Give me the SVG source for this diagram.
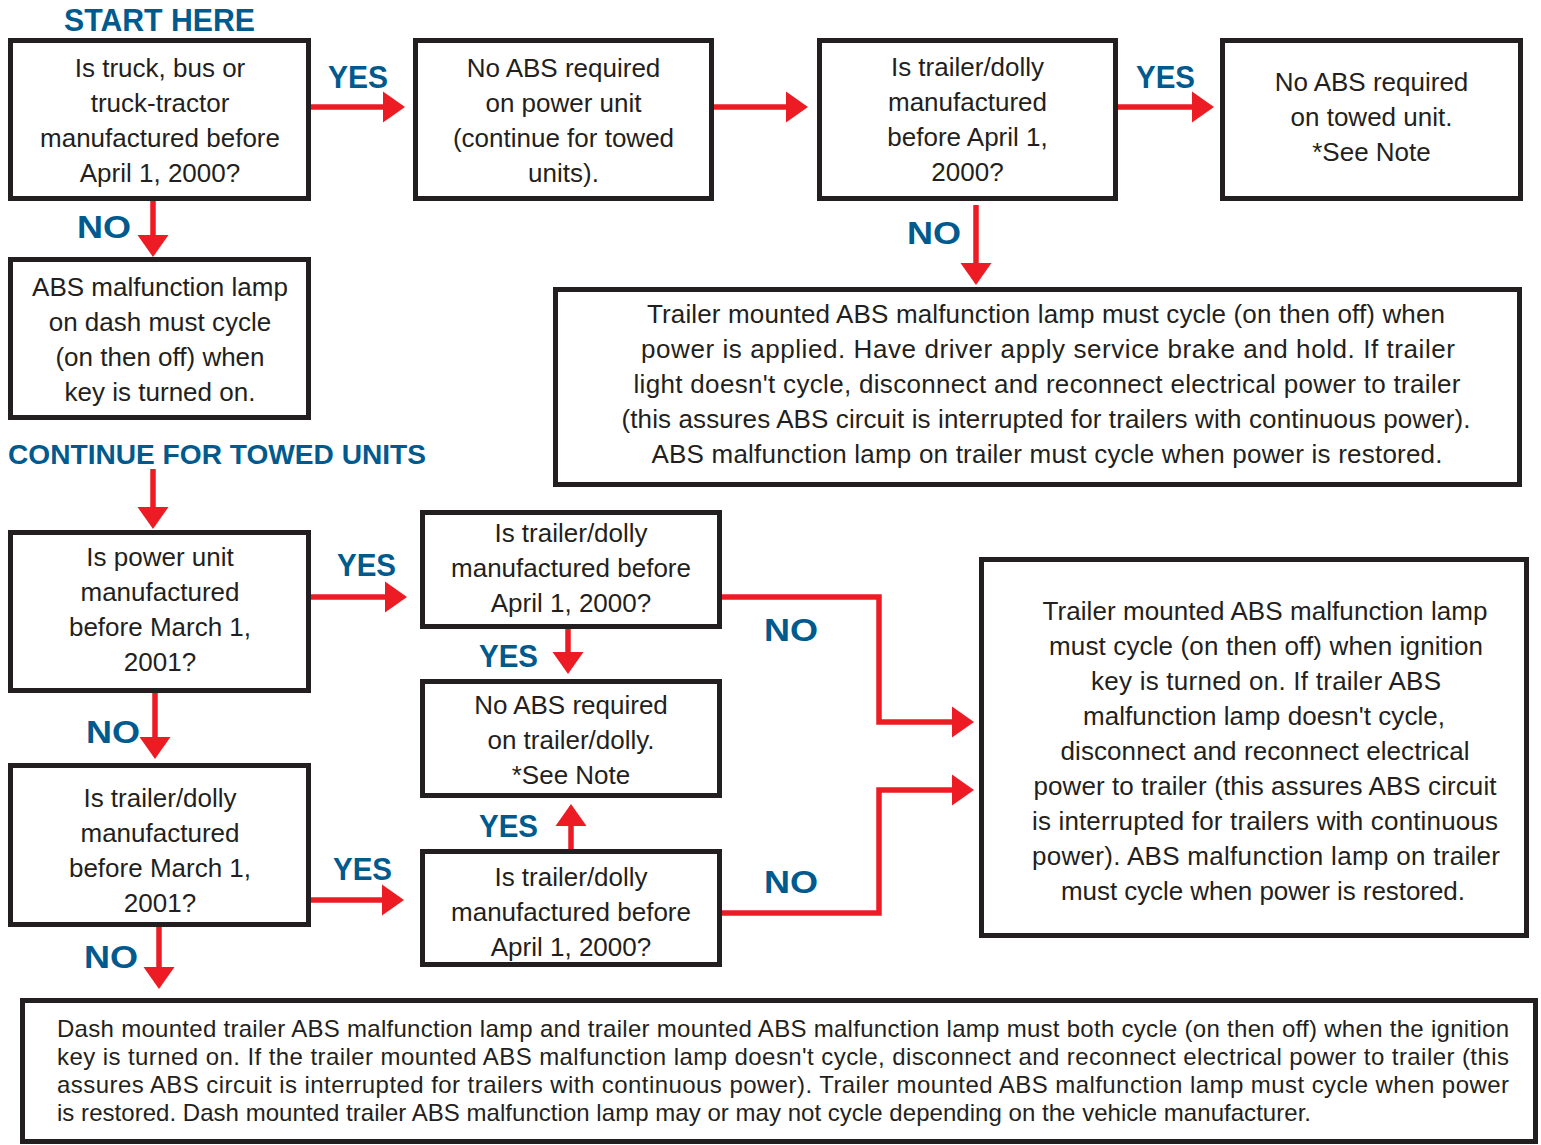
<svg xmlns="http://www.w3.org/2000/svg" width="1541" height="1145" viewBox="0 0 1541 1145">
<style>
.box{fill:#fff;stroke:#231f20;stroke-width:5}
.t{font-family:"Liberation Sans",Arial,sans-serif;font-size:26px;fill:#231f20;text-anchor:middle}
.s{font-family:"Liberation Sans",Arial,sans-serif;font-size:24px;fill:#231f20}
.lbl{font-family:"Liberation Sans",Arial,sans-serif;font-weight:bold;font-size:32px;fill:#005a8e}
.hd{font-family:"Liberation Sans",Arial,sans-serif;font-weight:bold;fill:#005a8e}
.c{fill:none;stroke:#ed1c24;stroke-width:5.5;marker-end:url(#ah)}
</style>
<defs>
<marker id="ah" markerUnits="userSpaceOnUse" markerWidth="22" markerHeight="31" refX="2" refY="15.5" orient="auto" overflow="visible">
<path d="M0,0 L22,15.5 L0,31 z" fill="#ed1c24"/>
</marker>
</defs>
<rect width="1541" height="1145" fill="#fff"/>

<g id="connectors">
<path class="c" d="M311,107 H385"/>
<path class="c" d="M153,201 V237"/>
<path class="c" d="M714,107 H788"/>
<path class="c" d="M1118,107 H1194"/>
<path class="c" d="M976,205 V265"/>
<path class="c" d="M153,469 V509"/>
<path class="c" d="M311,597 H387"/>
<path class="c" d="M155,693 V739"/>
<path class="c" d="M311,900 H384"/>
<path class="c" d="M159,927 V969"/>
<path class="c" d="M568,628 V654"/>
<path class="c" d="M571,849 V824"/>
<path class="c" d="M722,597 H879 V722 H954"/>
<path class="c" d="M722,913 H879 V790 H954"/>
</g>

<g id="labels">
<text class="hd" x="64" y="31" font-size="31" textLength="191" lengthAdjust="spacingAndGlyphs">START HERE</text>
<text class="hd" x="8" y="464" font-size="28" textLength="418" lengthAdjust="spacingAndGlyphs">CONTINUE FOR TOWED UNITS</text>
<text class="lbl" x="328" y="88" textLength="60" lengthAdjust="spacingAndGlyphs">YES</text>
<text class="lbl" x="77" y="238" textLength="54" lengthAdjust="spacingAndGlyphs">NO</text>
<text class="lbl" x="1136" y="88" textLength="59" lengthAdjust="spacingAndGlyphs">YES</text>
<text class="lbl" x="907" y="244" textLength="54" lengthAdjust="spacingAndGlyphs">NO</text>
<text class="lbl" x="337" y="576" textLength="59" lengthAdjust="spacingAndGlyphs">YES</text>
<text class="lbl" x="86" y="743" textLength="54" lengthAdjust="spacingAndGlyphs">NO</text>
<text class="lbl" x="333" y="880" textLength="59" lengthAdjust="spacingAndGlyphs">YES</text>
<text class="lbl" x="84" y="968" textLength="54" lengthAdjust="spacingAndGlyphs">NO</text>
<text class="lbl" x="479" y="667" textLength="59" lengthAdjust="spacingAndGlyphs">YES</text>
<text class="lbl" x="479" y="837" textLength="59" lengthAdjust="spacingAndGlyphs">YES</text>
<text class="lbl" x="764" y="641" textLength="54" lengthAdjust="spacingAndGlyphs">NO</text>
<text class="lbl" x="764" y="893" textLength="54" lengthAdjust="spacingAndGlyphs">NO</text>
</g>

<g id="q-truck">
<rect class="box" x="10.5" y="40.5" width="298" height="158"/>
<text class="t"><tspan x="160" y="77">Is truck, bus or</tspan><tspan x="160" y="112">truck-tractor</tspan><tspan x="160" y="147">manufactured before</tspan><tspan x="160" y="182">April 1, 2000?</tspan></text>
</g>

<g id="no-abs-power">
<rect class="box" x="415.5" y="40.5" width="296" height="158"/>
<text class="t"><tspan x="563.5" y="77">No ABS required</tspan><tspan x="563.5" y="112">on power unit</tspan><tspan x="563.5" y="147">(continue for towed</tspan><tspan x="563.5" y="182">units).</tspan></text>
</g>

<g id="q-trailer-top">
<rect class="box" x="819.5" y="40.5" width="296" height="158"/>
<text class="t"><tspan x="967.5" y="76">Is trailer/dolly</tspan><tspan x="967.5" y="111">manufactured</tspan><tspan x="967.5" y="146">before April 1,</tspan><tspan x="967.5" y="181">2000?</tspan></text>
</g>

<g id="no-abs-towed">
<rect class="box" x="1222.5" y="40.5" width="298" height="158"/>
<text class="t"><tspan x="1371.5" y="91">No ABS required</tspan><tspan x="1371.5" y="126">on towed unit.</tspan><tspan x="1371.5" y="161">*See Note</tspan></text>
</g>

<g id="dash-lamp">
<rect class="box" x="10.5" y="259.5" width="298" height="158"/>
<text class="t"><tspan x="160" y="296">ABS malfunction lamp</tspan><tspan x="160" y="331">on dash must cycle</tspan><tspan x="160" y="366">(on then off) when</tspan><tspan x="160" y="401">key is turned on.</tspan></text>
</g>

<g id="trailer-lamp-top">
<rect class="box" x="555.5" y="289.5" width="964" height="195"/>
<text class="t" x="1046" y="323" textLength="798">Trailer mounted ABS malfunction lamp must cycle (on then off) when</text>
<text class="t" x="1048" y="358" textLength="814">power is applied. Have driver apply service brake and hold. If trailer</text>
<text class="t" x="1047" y="393" textLength="827">light doesn't cycle, disconnect and reconnect electrical power to trailer</text>
<text class="t" x="1046" y="428" textLength="849">(this assures ABS circuit is interrupted for trailers with continuous power).</text>
<text class="t" x="1047" y="463" textLength="791">ABS malfunction lamp on trailer must cycle when power is restored.</text>
</g>

<g id="q-power-unit">
<rect class="box" x="10.5" y="532.5" width="298" height="158"/>
<text class="t"><tspan x="160" y="566">Is power unit</tspan><tspan x="160" y="601">manufactured</tspan><tspan x="160" y="636">before March 1,</tspan><tspan x="160" y="671">2001?</tspan></text>
</g>

<g id="q-trailer-mid">
<rect class="box" x="422.5" y="512.5" width="297" height="114"/>
<text class="t"><tspan x="571" y="542">Is trailer/dolly</tspan><tspan x="571" y="577">manufactured before</tspan><tspan x="571" y="612">April 1, 2000?</tspan></text>
</g>

<g id="no-abs-trailer">
<rect class="box" x="422.5" y="681.5" width="297" height="114"/>
<text class="t"><tspan x="571" y="714">No ABS required</tspan><tspan x="571" y="749">on trailer/dolly.</tspan><tspan x="571" y="784">*See Note</tspan></text>
</g>

<g id="q-trailer-low">
<rect class="box" x="422.5" y="851.5" width="297" height="113"/>
<text class="t"><tspan x="571" y="886">Is trailer/dolly</tspan><tspan x="571" y="921">manufactured before</tspan><tspan x="571" y="956">April 1, 2000?</tspan></text>
</g>

<g id="trailer-lamp-right">
<rect class="box" x="981.5" y="559.5" width="545" height="376"/>
<text class="t" x="1265" y="620" textLength="445">Trailer mounted ABS malfunction lamp</text>
<text class="t" x="1266" y="655" textLength="434">must cycle (on then off) when ignition</text>
<text class="t" x="1266" y="690" textLength="350">key is turned on. If trailer ABS</text>
<text class="t" x="1264" y="725" textLength="362">malfunction lamp doesn't cycle,</text>
<text class="t" x="1265" y="760" textLength="409">disconnect and reconnect electrical</text>
<text class="t" x="1265" y="795" textLength="463">power to trailer (this assures ABS circuit</text>
<text class="t" x="1265" y="830" textLength="466">is interrupted for trailers with continuous</text>
<text class="t" x="1266" y="865" textLength="468">power). ABS malfunction lamp on trailer</text>
<text class="t" x="1263" y="900" textLength="404">must cycle when power is restored.</text>
</g>

<g id="q-trailer-march">
<rect class="box" x="10.5" y="765.5" width="298" height="159"/>
<text class="t"><tspan x="160" y="807">Is trailer/dolly</tspan><tspan x="160" y="842">manufactured</tspan><tspan x="160" y="877">before March 1,</tspan><tspan x="160" y="912">2001?</tspan></text>
</g>

<g id="dash-trailer-lamp">
<rect class="box" x="22.5" y="1000.5" width="1513" height="141"/>
<text class="s" x="57" y="1037" textLength="1452">Dash mounted trailer ABS malfunction lamp and trailer mounted ABS malfunction lamp must both cycle (on then off) when the ignition</text>
<text class="s" x="57" y="1065" textLength="1452">key is turned on. If the trailer mounted ABS malfunction lamp doesn't cycle, disconnect and reconnect electrical power to trailer (this</text>
<text class="s" x="57" y="1093" textLength="1452">assures ABS circuit is interrupted for trailers with continuous power). Trailer mounted ABS malfunction lamp must cycle when power</text>
<text class="s" x="57" y="1121" textLength="1254">is restored. Dash mounted trailer ABS malfunction lamp may or may not cycle depending on the vehicle manufacturer.</text>
</g>
</svg>
